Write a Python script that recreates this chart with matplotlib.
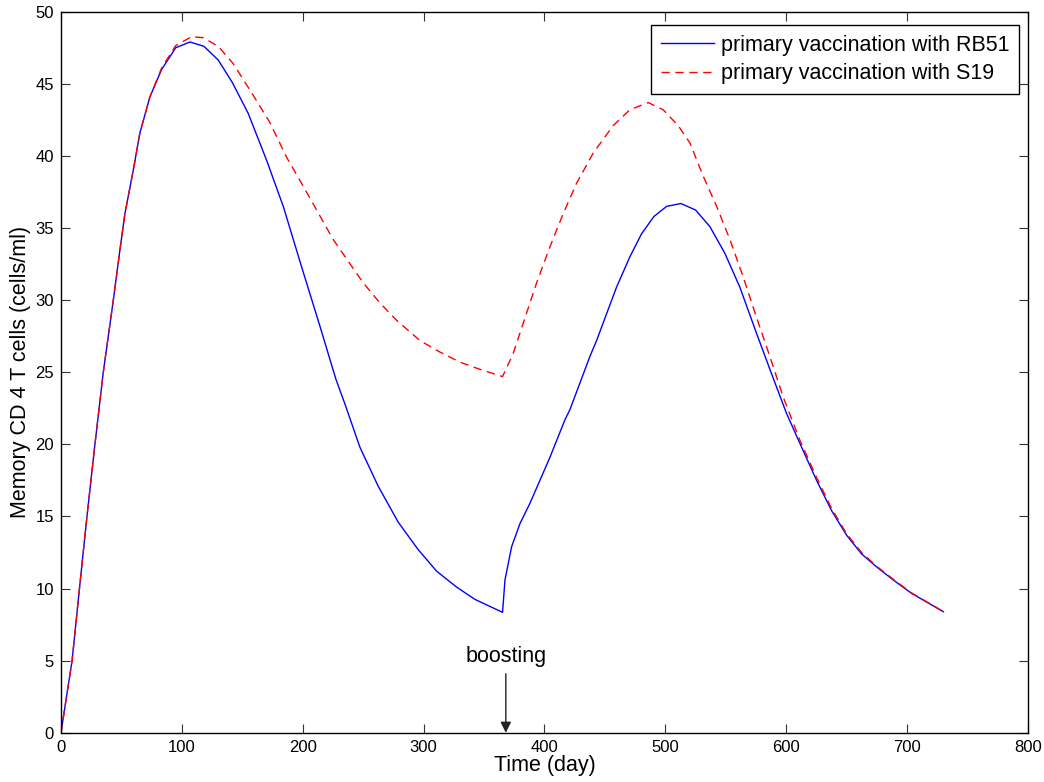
import matplotlib
matplotlib.use("Agg")
import matplotlib.pyplot as plt

plt.rcParams['font.family'] = ['Liberation Sans', 'DejaVu Sans']

# Blue: primary vaccination with RB51
rb51_day = [0, 9.2, 15.3, 21.5, 28.1, 35.0, 43.3, 48.8, 52.9, 59.8, 65.3, 73.6, 83.3,
            94.9, 106.7, 118.3, 130.1, 141.7, 154.9, 170.1, 183.9, 199.1, 214.2, 227.5,
            234.9, 247.3, 262.4, 279.0, 295.5, 310.8, 327.3, 342.4, 365.3,
            367.3, 372.8, 379.7, 387.9, 396.2, 404.5, 416.9, 421.0, 437.6, 443.1, 459.6,
            470.6, 480.3, 490.5, 501.0, 512.8, 525.0, 536.8, 549.2, 561.6, 575.4, 587.8,
            600.2, 612.7, 625.1, 637.5, 649.9, 662.3, 674.7, 688.4, 703.6, 730.0]
rb51_val = [0, 5.0, 10.0, 15.0, 20.0, 25.0, 30.0, 33.5, 36.0, 39.0, 41.6, 44.1, 46.0,
            47.5, 47.9, 47.6, 46.65, 45.1, 42.95, 39.7, 36.5, 32.3, 28.2, 24.5,
            22.8, 19.8, 17.1, 14.6, 12.7, 11.2, 10.1, 9.25, 8.35,
            10.6, 12.9, 14.5, 15.9, 17.5, 19.1, 21.7, 22.4, 26.1, 27.2, 30.9,
            33.0, 34.6, 35.8, 36.5, 36.7, 36.25, 35.1, 33.25, 30.9, 27.7, 24.9,
            22.15, 19.8, 17.5, 15.4, 13.7, 12.4, 11.5, 10.6, 9.67, 8.39]

# Red: primary vaccination with S19
s19_day = [0, 9.2, 15.3, 21.5, 28.1, 35.0, 43.3, 48.8, 52.9, 59.8, 65.3, 73.6, 83.3,
           94.9, 108.1, 117.7, 130.1, 142.5, 159.1, 172.9, 186.7, 197.7, 211.5, 225.2,
           237.6, 250.0, 263.9, 277.7, 296.9, 313.5, 330.0, 346.6, 365.3,
           374.1, 382.4, 393.5, 404.5, 415.5, 426.5, 440.3, 456.8, 470.6, 485.8, 498.2,
           510.6, 520.3, 531.3, 542.4, 553.4, 564.4, 575.4, 586.4, 597.4, 611.2, 625.1,
           637.5, 649.9, 662.3, 674.7, 688.4, 703.6, 730.0]
s19_val = [0, 5.0, 10.0, 15.0, 20.0, 25.0, 30.0, 33.5, 36.0, 39.0, 41.6, 44.1, 46.1,
           47.65, 48.27, 48.2, 47.6, 46.4, 44.2, 42.3, 39.9, 38.3, 36.25, 34.2,
           32.7, 31.2, 29.8, 28.6, 27.2, 26.4, 25.7, 25.2, 24.7,
           26.3, 28.4, 31.2, 33.7, 36.0, 38.1, 40.2, 42.1, 43.2, 43.7, 43.2,
           42.1, 40.9, 38.6, 36.5, 34.2, 31.6, 28.8, 26.1, 23.3, 20.3, 17.7,
           15.55, 13.8, 12.5, 11.55, 10.65, 9.7, 8.4]

x_ticks = [0, 100, 200, 300, 400, 500, 600, 700, 800]
y_ticks = [0, 5, 10, 15, 20, 25, 30, 35, 40, 45, 50]

fig = plt.figure(figsize=(10.44, 7.82), dpi=100)
ax = fig.add_axes([0.0584, 0.063, 0.9263, 0.922])

ax.plot(rb51_day, rb51_val, color=(0, 0, 1), lw=1.0, label='primary vaccination with RB51')
ax.plot(s19_day, s19_val, color=(1, 0, 0), lw=1.0, dashes=(6, 4),
        label='primary vaccination with S19')

ax.set_xlim(0, 800)
ax.set_ylim(0, 50)
ax.set_xticks(x_ticks)
ax.set_yticks(y_ticks)
ax.tick_params(direction='in', length=6.5, width=0.8, top=True, right=True,
               labelsize=12, pad=5, color='#333333')
for s in ax.spines.values():
    s.set_linewidth(1.0)

ax.set_xlabel('Time (day)', fontsize=15.5, labelpad=0)
ax.set_ylabel('Memory CD 4 T cells (cells/ml)', fontsize=15.5, labelpad=3)

ax.annotate('boosting', xy=(368, 0), xytext=(368, 5.3), ha='center', va='center',
            fontsize=15.5,
            arrowprops=dict(arrowstyle='-|>', color='#222222', lw=1.0,
                            mutation_scale=16, shrinkA=3, shrinkB=0))

leg = ax.legend(loc='upper right', bbox_to_anchor=(0.9907, 0.9815), fontsize=15.5,
                frameon=True, fancybox=False, edgecolor='black', framealpha=1,
                borderaxespad=0, handlelength=2.5, handletextpad=0.3,
                borderpad=0.45, labelspacing=0.35)
leg.get_frame().set_linewidth(1.0)

fig.savefig('out.png', dpi=100)
